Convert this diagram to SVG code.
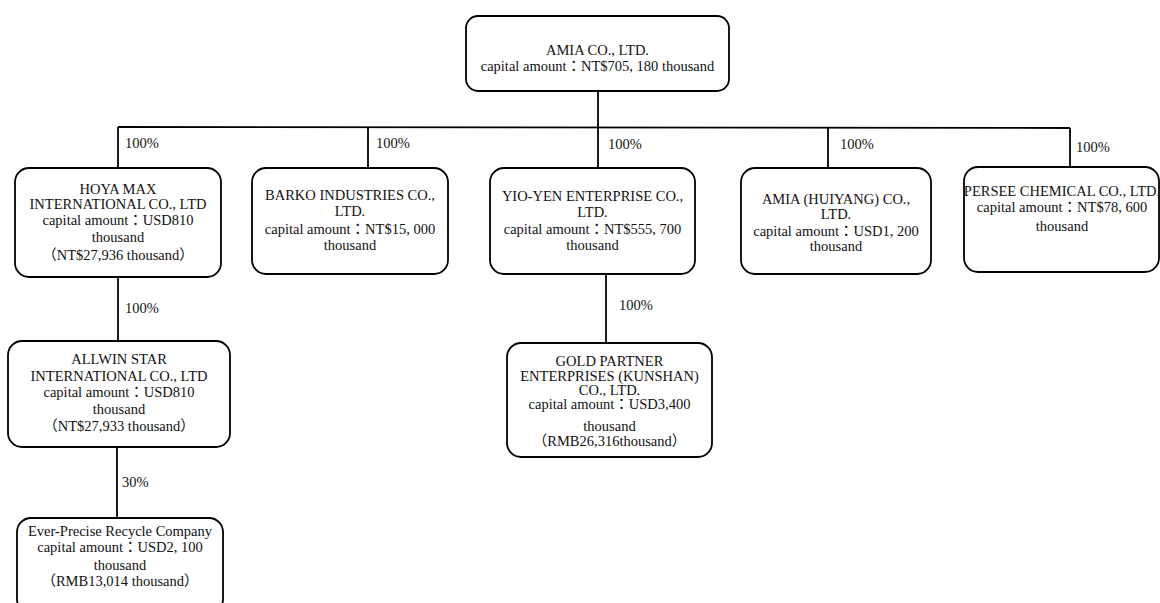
<svg xmlns="http://www.w3.org/2000/svg" width="1160" height="603" viewBox="0 0 1160 603">
<style>
.box{fill:#fff;stroke:#000;stroke-width:1.8}
.ln{stroke:#000;stroke-width:1.8;fill:none}
text{font-family:"Liberation Serif","Noto Sans CJK TC",serif;font-size:14.5px;fill:#111}
.c{text-anchor:middle}
</style>
<rect width="1160" height="603" fill="#fff"/>
<g id="connectors">
<line class="ln" x1="598" y1="91" x2="598" y2="127"/>
<line class="ln" x1="118" y1="127" x2="1070" y2="128"/>
<line class="ln" x1="118" y1="127" x2="118" y2="168"/>
<line class="ln" x1="368" y1="127" x2="368" y2="168"/>
<line class="ln" x1="598" y1="127" x2="598" y2="168"/>
<line class="ln" x1="828" y1="128" x2="828" y2="168"/>
<line class="ln" x1="1070" y1="128" x2="1070" y2="166"/>
<line class="ln" x1="118" y1="277" x2="118" y2="341"/>
<line class="ln" x1="606" y1="274" x2="606" y2="343"/>
<line class="ln" x1="117" y1="447" x2="117" y2="518"/>
<text x="125" y="148">100%</text>
<text x="376" y="148">100%</text>
<text x="608" y="149">100%</text>
<text x="840" y="149">100%</text>
<text x="1076" y="152">100%</text>
<text x="125" y="313">100%</text>
<text x="619" y="310">100%</text>
<text x="122" y="487">30%</text>
</g>
<g id="amia">
<rect class="box" x="466" y="16" width="263" height="75" rx="12"/>
<text class="c" x="597.5" y="55">AMIA CO., LTD.</text>
<text class="c" x="597.5" y="71">capital amount：NT$705, 180 thousand</text>
</g>
<g id="hoya">
<rect class="box" x="15" y="168" width="206" height="109" rx="14"/>
<text class="c" x="118" y="194">HOYA MAX</text>
<text class="c" x="118" y="209">INTERNATIONAL CO., LTD</text>
<text class="c" x="118" y="225">capital amount：USD810</text>
<text class="c" x="118" y="242">thousand</text>
<text class="c" x="118" y="260">（NT$27,936 thousand）</text>
</g>
<g id="barko">
<rect class="box" x="252" y="168" width="196" height="106" rx="14"/>
<text class="c" x="350" y="200">BARKO INDUSTRIES CO.,</text>
<text class="c" x="350" y="216">LTD.</text>
<text class="c" x="350" y="234">capital amount：NT$15, 000</text>
<text class="c" x="350" y="250">thousand</text>
</g>
<g id="yioyen">
<rect class="box" x="490" y="168" width="205" height="106" rx="14"/>
<text class="c" x="592.5" y="201">YIO-YEN ENTERPRISE CO.,</text>
<text class="c" x="592.5" y="217">LTD.</text>
<text class="c" x="592.5" y="234">capital amount：NT$555, 700</text>
<text class="c" x="592.5" y="250">thousand</text>
</g>
<g id="huiyang">
<rect class="box" x="741" y="168" width="190" height="106" rx="14"/>
<text class="c" x="836" y="204">AMIA (HUIYANG) CO.,</text>
<text class="c" x="836" y="219">LTD.</text>
<text class="c" x="836" y="236">capital amount：USD1, 200</text>
<text class="c" x="836" y="251">thousand</text>
</g>
<g id="persee">
<rect class="box" x="964" y="167" width="195" height="105" rx="14"/>
<text class="c" x="1062" y="196">PERSEE CHEMICAL CO., LTD.</text>
<text class="c" x="1062" y="212">capital amount：NT$78, 600</text>
<text class="c" x="1062" y="231">thousand</text>
</g>
<g id="allwin">
<rect class="box" x="8" y="341" width="222" height="106" rx="14"/>
<text class="c" x="119" y="364">ALLWIN STAR</text>
<text class="c" x="119" y="381">INTERNATIONAL CO., LTD</text>
<text class="c" x="119" y="397">capital amount：USD810</text>
<text class="c" x="119" y="414">thousand</text>
<text class="c" x="119" y="431">（NT$27,933 thousand）</text>
</g>
<g id="goldpartner">
<rect class="box" x="507" y="343" width="205" height="114" rx="14"/>
<text class="c" x="609.5" y="366">GOLD PARTNER</text>
<text class="c" x="609.5" y="381">ENTERPRISES (KUNSHAN)</text>
<text class="c" x="609.5" y="395">CO., LTD.</text>
<text class="c" x="609.5" y="409">capital amount：USD3,400</text>
<text class="c" x="609.5" y="431">thousand</text>
<text class="c" x="609.5" y="446">（RMB26,316thousand）</text>
</g>
<g id="everprecise">
<rect class="box" x="17" y="518" width="206" height="95" rx="14"/>
<text class="c" x="120" y="536">Ever-Precise Recycle Company</text>
<text class="c" x="120" y="552">capital amount：USD2, 100</text>
<text class="c" x="120" y="570">thousand</text>
<text class="c" x="120" y="586">（RMB13,014 thousand）</text>
</g>
</svg>
